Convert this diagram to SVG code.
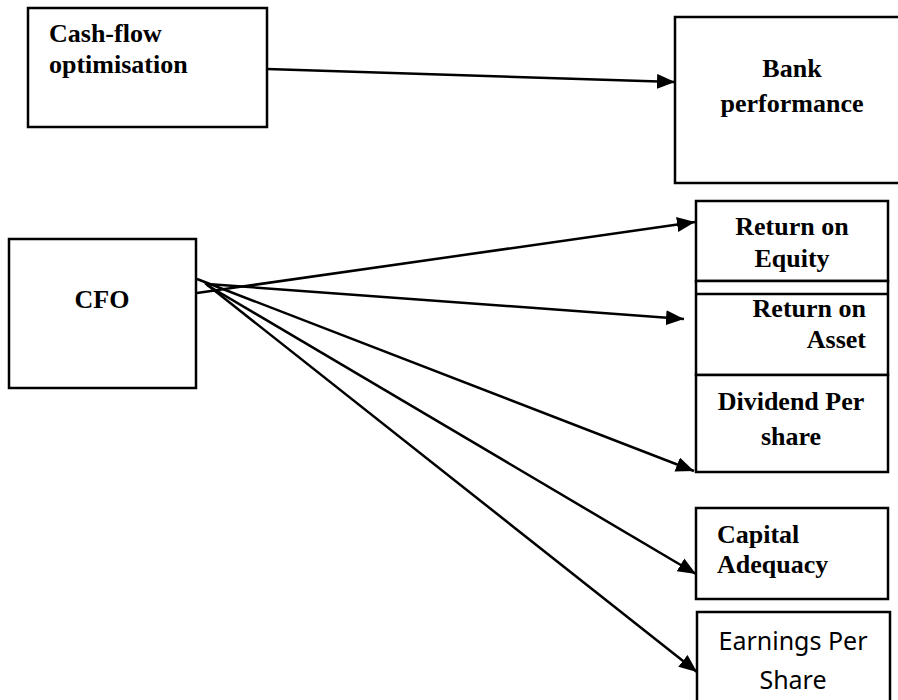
<svg xmlns="http://www.w3.org/2000/svg" width="898" height="700" viewBox="0 0 898 700">
<style>
.box{fill:#fff;stroke:#000;stroke-width:2.5}
.t{font-family:"Liberation Serif","Times New Roman",serif;font-weight:bold;font-size:26px;fill:#000}
.s{font-family:"Noto Sans","Open Sans",sans-serif;font-size:25px;fill:#000}
.c{text-anchor:middle}
.e{text-anchor:end}
.ln{stroke:#000;stroke-width:2.5;fill:none;marker-end:url(#ah)}
</style>
<defs>
<marker id="ah" markerUnits="userSpaceOnUse" markerWidth="19" markerHeight="15" refX="18" refY="7.5" orient="auto">
<path d="M0,0 L18,7.5 L0,15 Z" fill="#000"/>
</marker>
</defs>
<rect width="898" height="700" fill="#fff"/>
<g id="cashflow">
<rect class="box" x="28" y="8" width="239" height="119"/>
<text class="t" x="49" y="42">Cash-flow</text>
<text class="t" x="49" y="73">optimisation</text>
</g>
<g id="bank">
<rect class="box" x="675" y="17" width="230" height="166"/>
<text class="t c" x="792" y="77">Bank</text>
<text class="t c" x="792" y="112">performance</text>
</g>
<g id="cfo">
<rect class="box" x="9" y="239" width="187" height="149"/>
<text class="t c" x="102" y="308">CFO</text>
</g>
<g id="roe">
<rect class="box" x="696" y="201" width="192" height="80"/>
<text class="t c" x="792" y="235">Return on</text>
<text class="t c" x="792" y="267">Equity</text>
</g>
<g id="roa">
<rect class="box" x="696" y="281" width="192" height="94"/>
<line x1="696" y1="294" x2="888" y2="294" stroke="#000" stroke-width="2.5"/>
<text class="t e" x="866" y="317">Return on</text>
<text class="t e" x="866" y="348">Asset</text>
</g>
<g id="dps">
<rect class="box" x="696" y="375" width="192" height="97"/>
<text class="t c" x="791" y="410">Dividend Per</text>
<text class="t c" x="791" y="445">share</text>
</g>
<g id="capital">
<rect class="box" x="696" y="508" width="192" height="91"/>
<text class="t" x="717" y="543">Capital</text>
<text class="t" x="717" y="573">Adequacy</text>
</g>
<g id="eps">
<rect class="box" x="697" y="612" width="193" height="100"/>
<text class="s c" x="793" y="650">Earnings Per</text>
<text class="s c" x="793" y="689">Share</text>
</g>
<g id="connectors">
<line class="ln" x1="267" y1="69" x2="675" y2="82"/>
<line class="ln" x1="197" y1="293" x2="695" y2="222"/>
<line class="ln" x1="207" y1="284" x2="684" y2="319"/>
<line class="ln" x1="197" y1="279" x2="694" y2="471"/>
<line class="ln" x1="207" y1="285" x2="696" y2="574"/>
<line class="ln" x1="205" y1="283" x2="697" y2="672"/>
</g>
</svg>
